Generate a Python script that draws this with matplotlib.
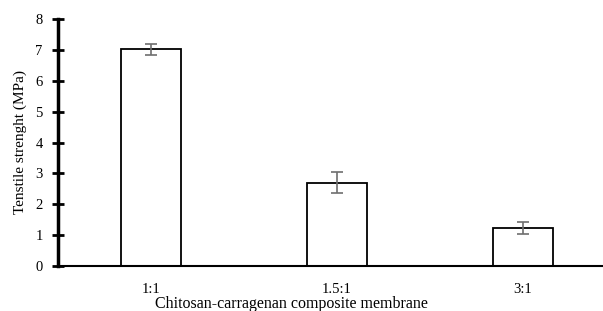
import matplotlib.pyplot as plt

ratios = ['1:1', '1.5:1', '3:1']
strength = [7.02, 2.70, 1.22]
strength_err = [0.17, 0.35, 0.19]

plt.rcParams['font.family'] = ['Liberation Serif', 'DejaVu Serif']

fig = plt.figure(figsize=(6.03, 3.11), dpi=100)
# axes run a bit past the right edge, like the cropped original
ax = fig.add_axes([58 / 603, (311 - 266) / 311, 558 / 603, 247 / 311])

x = range(len(ratios))
ax.bar(x, strength, width=0.32, color='white', edgecolor='black', linewidth=1.3,
       zorder=2)
ax.errorbar(x, strength, yerr=strength_err, fmt='none', ecolor='#6e6e6e',
            elinewidth=1.2, capsize=4, capthick=1.2, zorder=3)

ax.set_xlim(-0.5, 2.5)
ax.set_ylim(0, 8)
ax.set_yticks(range(0, 9))
ax.set_xticks(list(x))
ax.set_xticklabels(ratios, fontsize=10.5)
ax.tick_params(axis='y', direction='inout', length=8, width=2, labelsize=10.5, pad=7)
ax.tick_params(axis='x', length=0, pad=12)

for s in ['top', 'right']:
    ax.spines[s].set_visible(False)
ax.spines['left'].set_linewidth(2.5)
ax.spines['bottom'].set_linewidth(1.5)

ax.set_ylabel('Tenstile strenght (MPa)', fontsize=11, labelpad=6)
fig.text(291 / 603, 1 - 304 / 311, 'Chitosan-carragenan composite membrane',
         ha='center', va='center', fontsize=11.5)

fig.savefig('out.png', dpi=100)
